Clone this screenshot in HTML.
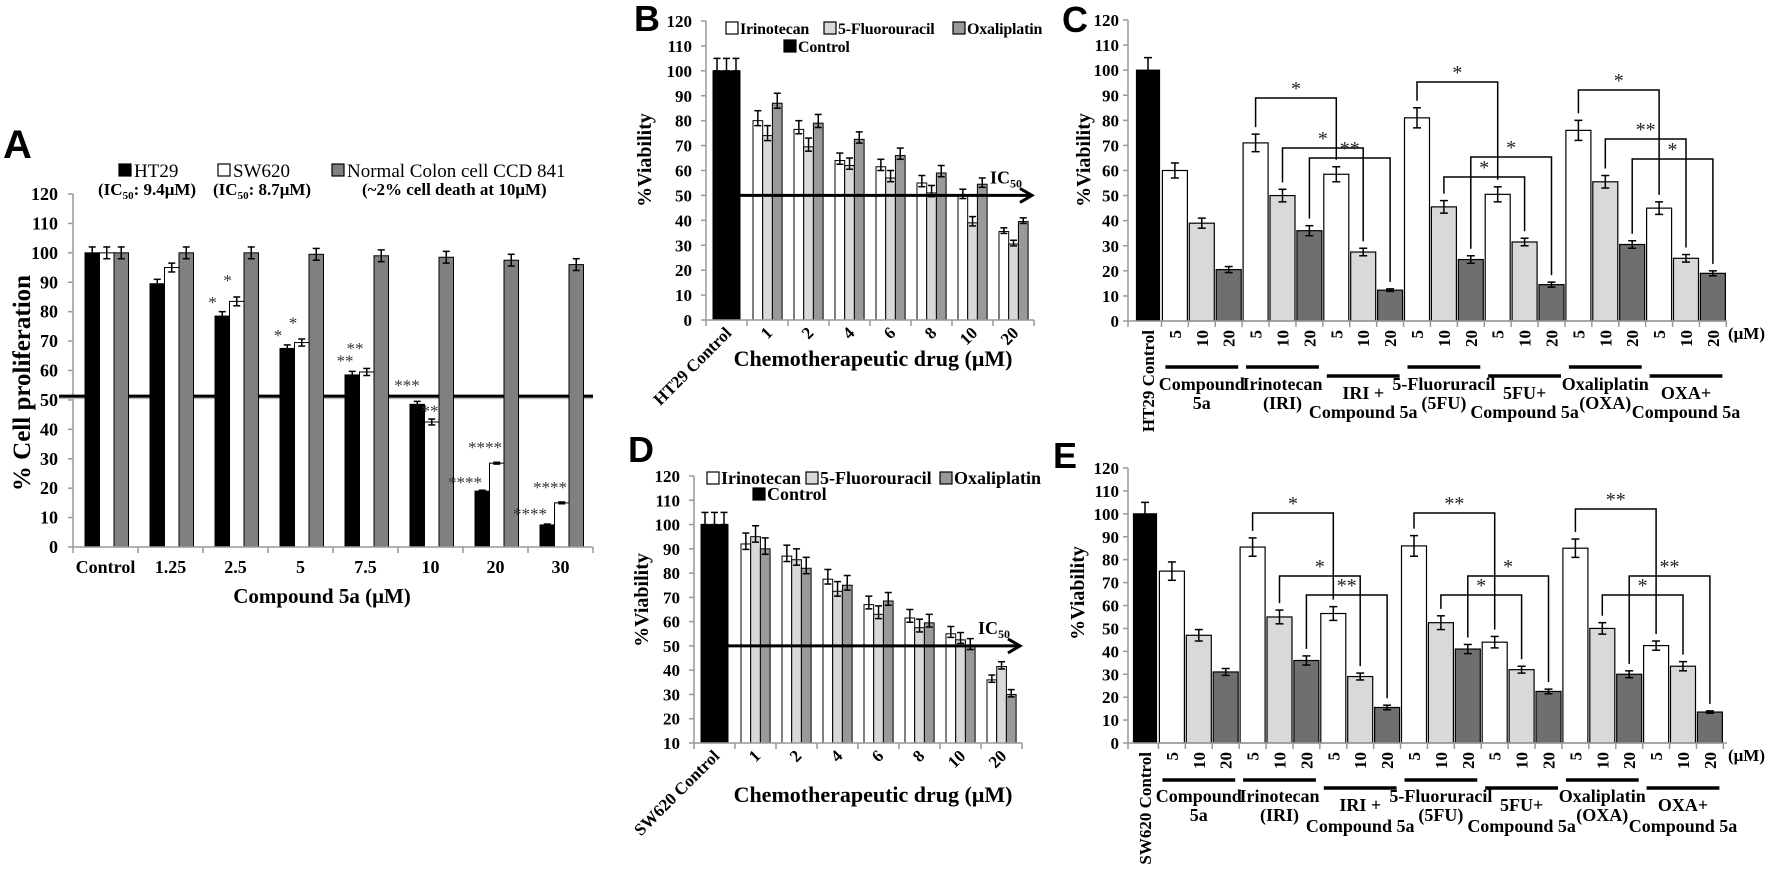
<!DOCTYPE html>
<html><head><meta charset="utf-8"><title>Compound 5a viability figure</title>
<style>
html,body{margin:0;padding:0;background:#fff;}
svg{display:block;font-family:"Liberation Serif",serif;}
.sans{font-family:"Liberation Sans",sans-serif;}
</style></head>
<body>
<svg id="fig" xmlns="http://www.w3.org/2000/svg" width="1772" height="879" viewBox="0 0 1772 879"></svg>
<script>
// ---------- Panel A data ----------
const aCategories = ["Control","1.25","2.5","5","7.5","10","20","30"];
const aHT29 = [100,89.5,78.5,67.5,58.5,48.5,19,7.5];
const aSW620 = [100,95,83.5,69.5,59.5,42.5,28.5,15];
const aCCD = [100,100,100,99.5,99,98.5,97.5,96];
const aErr = [2,1.5,1.5,1.2,1.2,1,0.3,0.3];
const aErrCCD = [2,2,2,2,2,2,2,2];
const aTicks = [0,10,20,30,40,50,60,70,80,90,100,110,120];
// stars: [group, offset, value, label]
const aStars = [[2,9.5,84,"*"],[2,24.5,91.4,"*"],[3,10,72.7,"*"],[3,25,77,"*"],[4,12,64,"**"],[4,22,68.3,"**"],[5,9,55.7,"***"],[5,32,47,"**"],[6,2,22.8,"****"],[6,22,34.7,"****"],[7,2,12,"****"],[7,22,21,"****"]];

// ---------- Panel B / D data ----------
const bdCategories = ["1","2","4","6","8","10","20"];
const bIri = [80,76.5,64,61.5,55,50,35.5];
const bFu = [74,69.5,62,57,51,39,30.5];
const bOxa = [87,79,72.5,66,59,54.5,39.5];
const bErr = [4,3.5,3,3,3,2.5,1.5];
const dIri = [92,87,77.5,67,61.5,55,36];
const dFu = [95,85.5,72.5,63,57.5,52.5,41.5];
const dOxa = [90,82,75,68.5,59.5,50,30];
const dErr = [4.5,4.5,4,3.5,3.5,3,2];
const bTicks = [0,10,20,30,40,50,60,70,80,90,100,110,120];
const dTicks = [10,20,30,40,50,60,70,80,90,100,110,120];

// ---------- Panel C / E data ----------
const ceDoses = ["5","10","20"];
const ceGroups = ["Compound 5a","IRI","IRI+5a","5FU","5FU+5a","OXA","OXA+5a"];
const cValues = [100, 60,39,20.5, 71,50,36, 58.5,27.5,12.3, 81,45.5,24.5, 50.5,31.5,14.5, 76,55.5,30.5, 45,25,19];
const cErr = [5, 3,2,1.2, 3.5,2.5,2, 3,1.5,0.5, 4,2.5,1.5, 3,1.5,1, 4,2.5,1.5, 2.5,1.5,1];
const eValues = [100, 75,47,31, 85.5,55,36, 56.5,29,15.5, 86,52.5,41, 44,32,22.5, 85,50,30, 42.5,33.5,13.5];
const eErr = [5, 4,2.5,1.5, 4,3,2, 3,1.5,1, 4.5,3,2, 2.5,1.5,1, 4,2.5,1.5, 2,2,0.5];
const ceTicks = [0,10,20,30,40,50,60,70,80,90,100,110,120];
// brackets: [fromIndex, toIndex, label]
const cBrackets = [[4,7,"*"],[5,8,"*"],[6,9,"**"],[10,13,"*"],[11,14,"*"],[12,15,"*"],[16,19,"*"],[17,20,"**"],[18,21,"*"]];
const cBracketTops = [98,148,158,82,177,157,90,139,159];
const eBrackets = [[4,7,"*"],[5,8,"*"],[6,9,"**"],[10,13,"**"],[11,14,"*"],[12,15,"*"],[16,19,"**"],[17,20,"*"],[18,21,"**"]];
const eBracketTops = [513,576,595,513,595,576,509,595,576];

const NS="http://www.w3.org/2000/svg";
const svg=document.getElementById('fig');
function mk(tag,attrs,parent){const e=document.createElementNS(NS,tag);for(const k in attrs)e.setAttribute(k,attrs[k]);(parent||svg).appendChild(e);return e;}
function txt(s,attrs,parent){const e=mk('text',attrs,parent);e.textContent=s;return e;}
function grp(name){const g=mk('g',{});


return g;}
function errbar(g,x,y1,y2,w){
  mk('line',{x1:x,y1:y1,x2:x,y2:y2,stroke:'#000','stroke-width':1.5},g);
  mk('line',{x1:x-w,y1:y1,x2:x+w,y2:y1,stroke:'#000','stroke-width':1.5},g);
  mk('line',{x1:x-w,y1:y2,x2:x+w,y2:y2,stroke:'#000','stroke-width':1.5},g);
}

// ===================== PANEL A =====================
(function(){
  const g=grp('panel-a');
  const x0=73, y0=547, yTop=194, gw=65, bw=14.5, off=12;
  const yA=v=>y0-v*(y0-yTop)/120;
  const letter=txt('A',{x:3,y:158,'font-size':40,'font-weight':'bold',class:'sans'},g);
  
  
  const leg=grp('panel-a-legend'); g.appendChild(leg);
  const items=[[119,'#000','HT29'],[218,'#fff','SW620'],[332,'#808080','Normal Colon cell CCD 841']];
  items.forEach(it=>{
    const r=mk('rect',{x:it[0],y:164,width:12,height:12,fill:it[1],stroke:'#000','stroke-width':1.2},leg);
    
    
    const t=txt(it[2],{x:it[0]+15,y:177,'font-size':19},leg);
    
    
  });
  const sub=[[98,'9.4'],[213,'8.7']];
  sub.forEach(s=>{
    const t=mk('text',{x:s[0],y:195,'font-size':17,'font-weight':'bold'},leg);
    t.innerHTML='(IC<tspan font-size="11" dy="4">50</tspan><tspan dy="-4">: '+s[1]+'μM)</tspan>';
    
    
  });
  const t3=txt('(~2% cell death at 10μM)',{x:362,y:195,'font-size':17,'font-weight':'bold'},leg);
  
  
  const xEnd=x0+gw*aCategories.length;
  mk('line',{x1:x0,y1:yTop,x2:x0,y2:y0,stroke:'#999','stroke-width':1.5},g);
  aTicks.forEach(v=>{
    mk('line',{x1:x0-5,y1:yA(v),x2:x0,y2:yA(v),stroke:'#999','stroke-width':1.5},g);
    const t=txt(v,{x:58,y:yA(v)+6,'font-size':18,'font-weight':'bold','text-anchor':'end'},g);
    
    
  });
  const yt=txt('% Cell proliferation',{x:0,y:0,'font-size':25,'font-weight':'bold','text-anchor':'middle',transform:'translate(30,383) rotate(-90)'},g);
  
  
  mk('line',{x1:59,y1:yA(51.3)+2,x2:xEnd,y2:yA(51.3)+2,stroke:'#bbb','stroke-width':2},g);
  const ic=mk('line',{x1:59,y1:yA(51.3),x2:xEnd,y2:yA(51.3),stroke:'#000','stroke-width':3},g);
  
  
  const series=[[aHT29,'#000',aErr],[aSW620,'#fff',aErr],[aCCD,'#808080',aErrCCD]];
  aCategories.forEach((c,i)=>{
    const gx=x0+gw*i;
    series.forEach((s,k)=>{
      const v=s[0][i];
      const r=mk('rect',{x:gx+off+k*bw,y:yA(v),width:bw,height:y0-yA(v),fill:s[1],stroke:'#000','stroke-width':1},g);
      
      
      const e=s[2][i];
      errbar(g,gx+off+k*bw+bw/2,yA(v+e),yA(v-e),3.5);
    });
    mk('line',{x1:gx+gw,y1:y0,x2:gx+gw,y2:y0+6,stroke:'#999','stroke-width':1.5},g);
    const t=txt(c,{x:gx+gw/2,y:573,'font-size':18,'font-weight':'bold','text-anchor':'middle'},g);
    
    
  });
  mk('line',{x1:x0,y1:y0,x2:xEnd,y2:y0,stroke:'#999','stroke-width':1.5},g);
  mk('line',{x1:x0,y1:y0,x2:x0,y2:y0+6,stroke:'#999','stroke-width':1.5},g);
  aStars.forEach(s=>{
    const t=txt(s[3],{x:x0+gw*s[0]+s[1],y:yA(s[2])+8,'font-size':17,fill:'#333','text-anchor':'middle'},g);
    
    
  });
  const xt=txt('Compound 5a (μM)',{x:322,y:603,'font-size':21,'font-weight':'bold','text-anchor':'middle'},g);
  
  
})();

// ===================== PANEL B / D =====================
function panelBD(cfg){
  const g=grp(cfg.name);
  const {x0,y0,yTop,vMin,ticks,iri,fu,oxa,err}=cfg;
  const cw=41;
  const y=v=>y0-(v-vMin)*(y0-yTop)/(120-vMin);
  const L=txt(cfg.letter,{x:cfg.lx,y:cfg.ly,'font-size':36,'font-weight':'bold',class:'sans'},g);
  
  
  const leg=grp(cfg.name+'-legend'); g.appendChild(leg);
  const li=[[cfg.legX[0],cfg.ly1,'#fff','Irinotecan'],[cfg.legX[1],cfg.ly1,'#d9d9d9','5-Fluorouracil'],[cfg.legX[2],cfg.ly1,'#999','Oxaliplatin'],[cfg.legX[3],cfg.ly2,'#000','Control']];
  li.forEach(it=>{
    const r=mk('rect',{x:it[0],y:it[1]-12,width:12,height:12,fill:it[2],stroke:'#000','stroke-width':1.2},leg);
    
    
    const t=txt(it[3],{x:it[0]+14,y:it[1],'font-size':cfg.legFont,'font-weight':'bold','letter-spacing':cfg.legSp},leg);
    
    
  });
  const xEnd=x0+cw*8;
  mk('line',{x1:x0,y1:yTop,x2:x0,y2:y0,stroke:'#999','stroke-width':1.5},g);
  ticks.forEach(v=>{
    mk('line',{x1:x0-5,y1:y(v),x2:x0,y2:y(v),stroke:'#999','stroke-width':1.5},g);
    const t=txt(v,{x:x0-14,y:y(v)+6,'font-size':17,'font-weight':'bold','text-anchor':'end'},g);
    
    
  });
  const yt=txt('%Viability',{x:0,y:0,'font-size':20,'font-weight':'bold','text-anchor':'middle',transform:'translate('+cfg.ytx+','+cfg.yty+') rotate(-90)'},g);
  
  
  const cb=mk('rect',{x:x0+7,y:y(100),width:27,height:y0-y(100),fill:'#000',stroke:'#000'},g);
  
  
  [x0+11,x0+20.5,x0+30].forEach(ex=>errbar(g,ex,y(105),y(100),3.5));
  const series=[[iri,'#fff','irinotecan'],[fu,'#d9d9d9','fluorouracil'],[oxa,'#999','oxaliplatin']];
  const bw=9.7;
  bdCategories.forEach((c,i)=>{
    const gx=x0+cw*(i+1);
    series.forEach((s,k)=>{
      const v=s[0][i];
      const r=mk('rect',{x:gx+6+k*bw,y:y(v),width:bw,height:y0-y(v),fill:s[1],stroke:'#000','stroke-width':1},g);
      
      
      errbar(g,gx+6+k*bw+bw/2,y(v+err[i]),y(v-err[i]*0.5),3.5);
    });
  });
  for(let i=0;i<=8;i++) mk('line',{x1:x0+cw*i,y1:y0,x2:x0+cw*i,y2:y0+6,stroke:'#999','stroke-width':1.5},g);
  mk('line',{x1:x0,y1:y0,x2:xEnd,y2:y0,stroke:'#999','stroke-width':1.5},g);
  const allLabels=[cfg.ctrl].concat(bdCategories);
  allLabels.forEach((c,i)=>{
    const cx=x0+cw*i+cw/2+6, cy=y0+14;
    const t=txt(c,{x:0,y:0,'font-size':17,'font-weight':'bold','text-anchor':'end',transform:'translate('+cx+','+cy+') rotate(-45)'},g);
    
    
  });
  const ay=y(50);
  const ar=mk('line',{x1:x0+34,y1:ay,x2:xEnd-4,y2:ay,stroke:'#000','stroke-width':3},g);
  
  
  mk('polyline',{points:(xEnd-14)+','+(ay-7)+' '+(xEnd-2)+','+ay+' '+(xEnd-14)+','+(ay+7),fill:'none',stroke:'#000','stroke-width':3},g);
  const ict=mk('text',{x:xEnd-44,y:ay-12,'font-size':18,'font-weight':'bold'},g);
  ict.innerHTML='IC<tspan font-size="12" dy="4">50</tspan>';
  
  
  const xt=txt('Chemotherapeutic drug (μM)',{x:873,y:cfg.xty,'font-size':22,'font-weight':'bold','text-anchor':'middle'},g);
  
  
}
panelBD({name:'panel-b',letter:'B',lx:634,ly:31,x0:706,y0:320,yTop:21,vMin:0,ticks:bTicks,iri:bIri,fu:bFu,oxa:bOxa,err:bErr,
  legX:[726,824,953,784],ly1:34,ly2:52,ytx:651,yty:160,ctrl:'HT29 Control',xty:366,legFont:16,legSp:-0.2});
panelBD({name:'panel-d',letter:'D',lx:628,ly:462,x0:694,y0:743,yTop:476,vMin:10,ticks:dTicks,iri:dIri,fu:dFu,oxa:dOxa,err:dErr,
  legX:[707,806,940,753],ly1:484,ly2:500,ytx:648,yty:600,ctrl:'SW620 Control',xty:802,legFont:18,legSp:0});

// ===================== PANEL C / E =====================
function panelCE(cfg){
  const g=grp(cfg.name);
  const {x0,y0,yTop,vals,err,c0}=cfg;
  const slot=26.9, bw=25;
  const y=v=>y0-v*(y0-yTop)/120;
  const cx=i=>c0+i*slot;
  const L=txt(cfg.letter,{x:cfg.lx,y:cfg.ly,'font-size':36,'font-weight':'bold',class:'sans'},g);
  
  
  const xEnd=1727;
  mk('line',{x1:x0,y1:yTop,x2:x0,y2:y0,stroke:'#999','stroke-width':1.5},g);
  ceTicks.forEach(v=>{
    mk('line',{x1:x0-5,y1:y(v),x2:x0,y2:y(v),stroke:'#999','stroke-width':1.5},g);
    const t=txt(v,{x:1119,y:y(v)+6,'font-size':17,'font-weight':'bold','text-anchor':'end'},g);
    
    
  });
  const yt=txt('%Viability',{x:0,y:0,'font-size':20,'font-weight':'bold','text-anchor':'middle',transform:'translate('+cfg.ytx+','+cfg.yty+') rotate(-90)'},g);
  
  
  const fills=['#fff','#d9d9d9','#6f6f6f'];
  vals.forEach((v,i)=>{
    const fill=i===0?'#000':fills[(i-1)%3];
    const w=i===0?23:bw;
    const r=mk('rect',{x:cx(i)-w/2,y:y(v),width:w,height:y0-y(v),fill:fill,stroke:'#000','stroke-width':1.2},g);
    
    
    errbar(g,cx(i),y(v+err[i]),y(v-err[i]),4);
    mk('line',{x1:cx(i)+slot/2,y1:y0,x2:cx(i)+slot/2,y2:y0+6,stroke:'#999','stroke-width':1.5},g);
    const lab=i===0?cfg.ctrl:ceDoses[(i-1)%3];
    const t=txt(lab,{x:0,y:0,'font-size':17,'font-weight':'bold','text-anchor':'end',transform:'translate('+(cx(i)+6)+','+(y0+9)+') rotate(-90)'},g);
    
    
  });
  mk('line',{x1:x0,y1:y0,x2:xEnd,y2:y0,stroke:'#999','stroke-width':1.5},g);
  mk('line',{x1:x0,y1:y0,x2:x0,y2:y0+6,stroke:'#999','stroke-width':1.5},g);
  const um=txt('(μM)',{x:1728,y:y0+18,'font-size':17,'font-weight':'bold'},g);
  
  
  const glab=[['Compound','5a'],['Irinotecan','(IRI)'],['IRI +','Compound 5a'],['5-Fluoruracil','(5FU)'],['5FU+','Compound 5a'],['Oxaliplatin','(OXA)'],['OXA+','Compound 5a']];
  glab.forEach((lb,k)=>{
    const a=cx(1+3*k)-bw/2+3, b=cx(3+3*k)+bw/2-3, m=(a+b)/2;
    const isCombo=(k===2||k===4||k===6);
    const ly=isCombo?cfg.line2:cfg.line1;
    const ln=mk('line',{x1:a,y1:ly,x2:b,y2:ly,stroke:'#000','stroke-width':3.5},g);
    
    
    const t1=txt(lb[0],{x:m,y:isCombo?cfg.lab2a:cfg.lab1a,'font-size':18,'font-weight':'bold','text-anchor':'middle'},g);
    
    
    const t2=txt(lb[1],{x:m,y:isCombo?cfg.lab2b:cfg.lab1b,'font-size':18,'font-weight':'bold','text-anchor':'middle'},g);
    
    
  });
  cfg.brackets.forEach((br,k)=>{
    const top=cfg.tops[k];
    const a=cx(br[0]), b=cx(br[1]);
    const la=y(vals[br[0]]+err[br[0]])-7, lbb=y(vals[br[1]]+err[br[1]])-7;
    const p=mk('polyline',{points:a+','+la+' '+a+','+top+' '+b+','+top+' '+b+','+lbb,fill:'none',stroke:'#000','stroke-width':1.5},g);
    
    
    const t=txt(br[2],{x:(a+b)/2,y:top-3,'font-size':20,'text-anchor':'middle',fill:'#222'},g);
    
    
  });
}
panelCE({name:'panel-c',letter:'C',lx:1062,ly:32,x0:1128,y0:321,yTop:20,vals:cValues,err:cErr,c0:1148,brackets:cBrackets,tops:cBracketTops,
  ytx:1090,yty:160,ctrl:'HT29 Control',line1:367,line2:376,lab1a:390,lab1b:409,lab2a:399,lab2b:418});
panelCE({name:'panel-e',letter:'E',lx:1053,ly:468,x0:1128,y0:743,yTop:468,vals:eValues,err:eErr,c0:1145,brackets:eBrackets,tops:eBracketTops,
  ytx:1084,yty:593,ctrl:'SW620 Control',line1:780,line2:788,lab1a:802,lab1b:821,lab2a:811,lab2b:832});
</script>
</body></html>
